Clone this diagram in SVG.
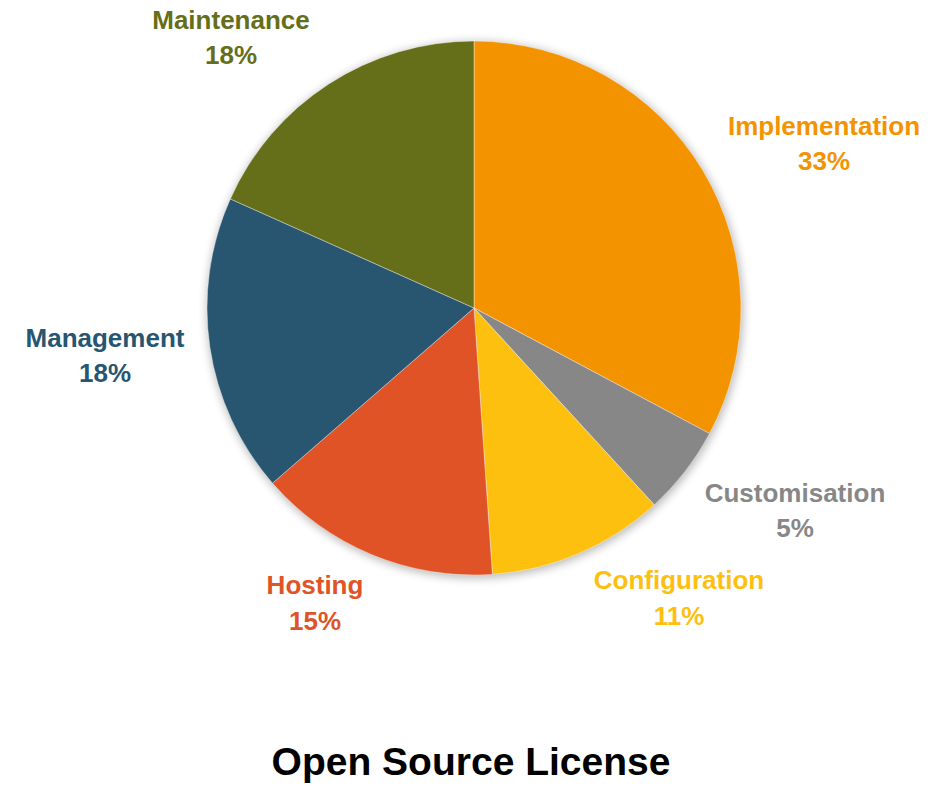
<svg xmlns="http://www.w3.org/2000/svg" width="943" height="790" viewBox="0 0 943 790">
  <style>
    .lbl { font-family: "Liberation Sans", Arial, sans-serif; font-weight: bold; font-size: 26px; text-anchor: middle; }
    .title { font-family: "Liberation Sans", Arial, sans-serif; font-weight: bold; font-size: 39px; text-anchor: middle; fill: #000; }
    .slice { stroke: #ffffff; stroke-width: 0.4; }
  </style>
  <defs>
    <filter id="softShadow" x="-10%" y="-10%" width="120%" height="120%">
      <feGaussianBlur stdDeviation="5"/>
    </filter>
  </defs>
  <rect width="943" height="790" fill="#ffffff"/>

  <!-- shadow under the pie -->
  <circle cx="475" cy="310" r="268" fill="#000" opacity="0.28" filter="url(#softShadow)"/>

  <!-- pie slices, clockwise from 12 o'clock -->
  <g id="implementation">
    <path class="slice" fill="#F49300" d="M474,308 L474,41 A267,267 0 0 1 709.6,433.6 Z"/>
    <text class="lbl" fill="#F49300" x="824" y="135">Implementation</text>
    <text class="lbl" fill="#F49300" x="824" y="170">33%</text>
  </g>
  <g id="customisation">
    <path class="slice" fill="#878787" d="M474,308 L709.6,433.6 A267,267 0 0 1 654.3,504.9 Z"/>
    <text class="lbl" fill="#878787" x="795" y="502">Customisation</text>
    <text class="lbl" fill="#878787" x="795" y="537">5%</text>
  </g>
  <g id="configuration">
    <path class="slice" fill="#FDC00F" d="M474,308 L654.3,504.9 A267,267 0 0 1 492.4,574.4 Z"/>
    <text class="lbl" fill="#FDC00F" x="679" y="589">Configuration</text>
    <text class="lbl" fill="#FDC00F" x="679" y="625">11%</text>
  </g>
  <g id="hosting">
    <path class="slice" fill="#E05327" d="M474,308 L492.4,574.4 A267,267 0 0 1 272.5,483.2 Z"/>
    <text class="lbl" fill="#E05327" x="315" y="594">Hosting</text>
    <text class="lbl" fill="#E05327" x="315" y="630">15%</text>
  </g>
  <g id="management">
    <path class="slice" fill="#28556F" d="M474,308 L272.5,483.2 A267,267 0 0 1 230.3,198.9 Z"/>
    <text class="lbl" fill="#28556F" x="105" y="347">Management</text>
    <text class="lbl" fill="#28556F" x="105" y="382">18%</text>
  </g>
  <g id="maintenance">
    <path class="slice" fill="#656E18" d="M474,308 L230.3,198.9 A267,267 0 0 1 474,41 Z"/>
    <text class="lbl" fill="#656E18" x="231" y="29">Maintenance</text>
    <text class="lbl" fill="#656E18" x="231" y="64">18%</text>
  </g>

  <g id="connectors"/>

  <text class="title" x="471" y="775">Open Source License</text>
</svg>
